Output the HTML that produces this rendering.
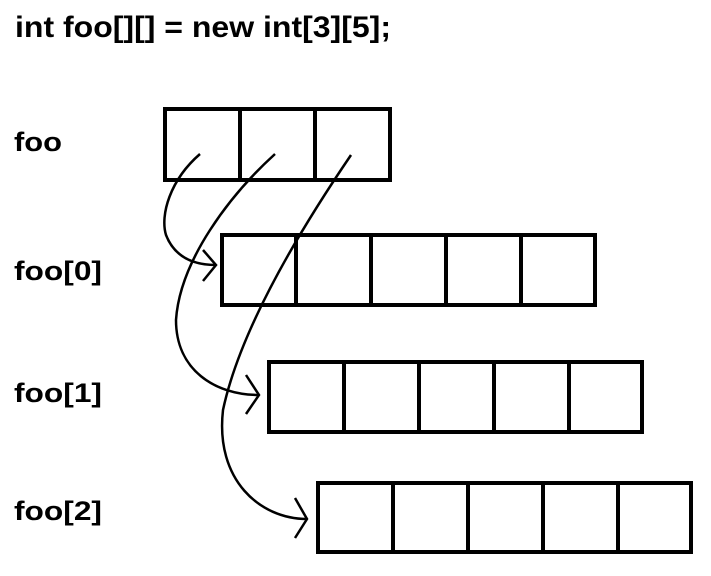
<!DOCTYPE html>
<html><head><style>
html,body{margin:0;padding:0;background:#fff;}
svg{display:block;}
text{font-family:"Liberation Sans",Arial,sans-serif;font-weight:bold;fill:#000;}
</style></head><body>
<svg width="711" height="576" viewBox="0 0 711 576" xmlns="http://www.w3.org/2000/svg">
<text x="15" y="37" font-size="30" textLength="376" lengthAdjust="spacingAndGlyphs">int foo[][] = new int[3][5];</text>
<text x="14" y="151" font-size="27" textLength="48" lengthAdjust="spacingAndGlyphs">foo</text>
<text x="14" y="280" font-size="27" textLength="88" lengthAdjust="spacingAndGlyphs">foo[0]</text>
<text x="14" y="402" font-size="27" textLength="88" lengthAdjust="spacingAndGlyphs">foo[1]</text>
<text x="14" y="520" font-size="27" textLength="88" lengthAdjust="spacingAndGlyphs">foo[2]</text>
<g fill="none" stroke="#000" stroke-width="4">
<rect x="165" y="109" width="225" height="71"/>
<line x1="240" y1="109" x2="240" y2="180"/>
<line x1="315" y1="109" x2="315" y2="180"/>
<rect x="222" y="235" width="373" height="70"/>
<line x1="296" y1="235" x2="296" y2="305"/>
<line x1="371" y1="235" x2="371" y2="305"/>
<line x1="446" y1="235" x2="446" y2="305"/>
<line x1="521" y1="235" x2="521" y2="305"/>
<rect x="269" y="362" width="373" height="70"/>
<line x1="344" y1="362" x2="344" y2="432"/>
<line x1="419" y1="362" x2="419" y2="432"/>
<line x1="494" y1="362" x2="494" y2="432"/>
<line x1="569" y1="362" x2="569" y2="432"/>
<rect x="318" y="483" width="373" height="69"/>
<line x1="393" y1="483" x2="393" y2="552"/>
<line x1="468" y1="483" x2="468" y2="552"/>
<line x1="543" y1="483" x2="543" y2="552"/>
<line x1="618" y1="483" x2="618" y2="552"/>
</g>
<g fill="none" stroke="#000" stroke-width="2.5">
<path d="M200,154 C170,180 160,215 166,235 C175,258 195,265 216,265"/>
<path d="M203,250 L216,265 L203,281"/>
<path d="M275,154 C230,195 180,260 176,320 C176,370 215,395 259,395"/>
<path d="M246,375 L259,395 L246,414"/>
<path d="M351,155 C300,230 240,330 223,410 C215,480 260,519 307,519"/>
<path d="M295,498 L307,519 L295,538"/>
</g>
</svg>
</body></html>
